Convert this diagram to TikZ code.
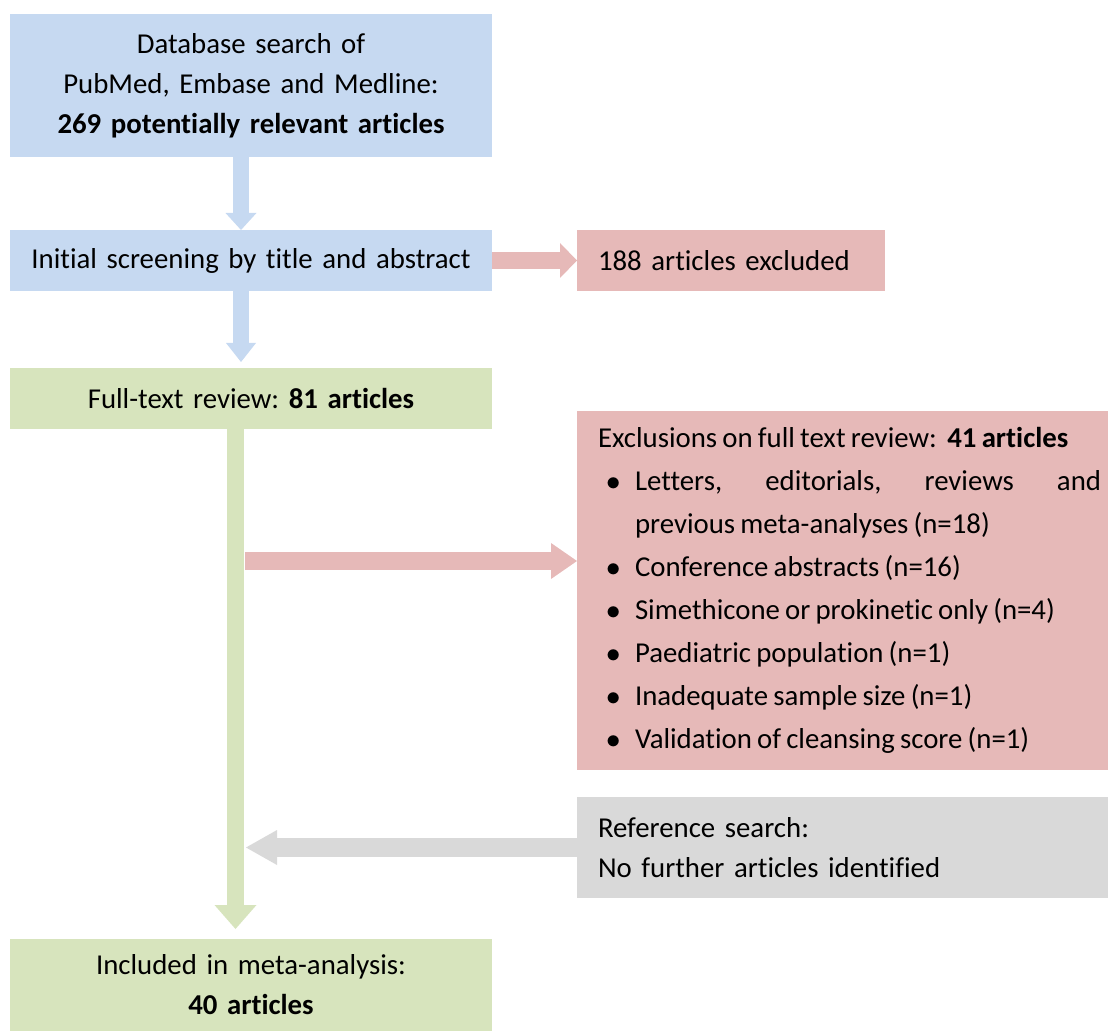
\documentclass[tikz,border=0pt]{standalone}
\usepackage{fontspec}
\setmainfont{Carlito}[Ligatures=NoCommon, WordSpace=0.8]
\usetikzlibrary{arrows.meta}
\frenchspacing

\definecolor{boxblue}{HTML}{C6D9F1}
\definecolor{boxgreen}{HTML}{D7E4BD}
\definecolor{boxred}{HTML}{E6B9B8}
\definecolor{boxgray}{HTML}{D9D9D9}

\newcommand{\exclitem}[1]{\par\hangindent=18.5pt\noindent\hbox to 18.5pt{\hskip4pt$\bullet$\hfil}#1}

\begin{document}
\begin{tikzpicture}[x=0.5pt, y=-0.5pt,
	box/.style={anchor=north west, inner sep=0pt, outer sep=0pt, font=\fontsize{14.4}{20}\selectfont},
	blockarrow/.style n args={3}{line width=#1, -{Triangle[length=#2, width=#3, line width=0pt]}}]
	\useasboundingbox (0,0) rectangle (1108,1031);
	% boxes
	\node[box, fill=boxblue, minimum width=241pt, minimum height=71.5pt, text width=241pt, align=center] (search) at (10,14)
		{Database search of\\PubMed, Embase and Medline:\\\textbf{269 potentially relevant articles}};
	\node[box, fill=boxblue, minimum width=241pt, minimum height=30.5pt, text width=241pt, align=center] (screen) at (10,230)
		{Initial screening by title and abstract};
	\node[box, fill=boxred, inner xsep=10.5pt, minimum height=30.5pt, text width=133pt, align=left] (excl1) at (577,230)
		{188 articles excluded};
	\node[box, fill=boxgreen, minimum width=241pt, minimum height=30.5pt, text width=241pt, align=center] (fulltext) at (10,368)
		{Full-text review: \textbf{81 articles}};
	\node[box, fill=boxred, inner xsep=3.5pt, minimum height=179.5pt, text width=258.5pt, align=justify,
		font=\fontsize{14.4}{21.5}\selectfont] (excl2) at (577,411)
		{\leftskip=7pt Exclusions on full text review:\ \ \textbf{41 articles}
		\exclitem{Letters, editorials, reviews and\linebreak previous meta-analyses (n=18)}
		\exclitem{Conference abstracts (n=16)}
		\exclitem{Simethicone or prokinetic only (n=4)}
		\exclitem{Paediatric population (n=1)}
		\exclitem{Inadequate sample size (n=1)}
		\exclitem{Validation of cleansing score (n=1)}\par};
	\node[box, fill=boxgray, inner xsep=10.5pt, minimum height=50.5pt, text width=244.5pt, align=left] (refsearch) at (577,797)
		{Reference search:\\No further articles identified};
	\node[box, fill=boxgreen, minimum width=241pt, minimum height=46pt, text width=241pt, align=center] (included) at (10,939)
		{Included in meta-analysis:\\\textbf{40 articles}};
	% arrows
	\coordinate (bluex) at (241,0);
	\coordinate (spine) at (235.5,0);
	\coordinate (split) at (245,561);
	\coordinate (merge) at (246,845.5);
	\draw[blockarrow={8pt}{8.5pt}{15.5pt}, boxblue] (search.south -| bluex) -- (screen.north -| bluex);
	\draw[blockarrow={8pt}{9.5pt}{15pt}, boxblue, shorten >=3pt] (screen.south -| bluex) -- (fulltext.north -| bluex);
	\draw[blockarrow={8.5pt}{8.5pt}{17.5pt}, boxred] (screen.east) -- (excl1.west);
	\draw[blockarrow={8.5pt}{12pt}{21pt}, boxgreen, shorten >=5pt] (fulltext.south -| spine) -- (included.north -| spine);
	\draw[blockarrow={9pt}{13pt}{18pt}, boxred] (split) -- (excl2.west |- split);
	\draw[blockarrow={9.5pt}{15.5pt}{17.5pt}, boxgray] (refsearch.west) -- (merge |- refsearch.west);
\end{tikzpicture}
\end{document}
